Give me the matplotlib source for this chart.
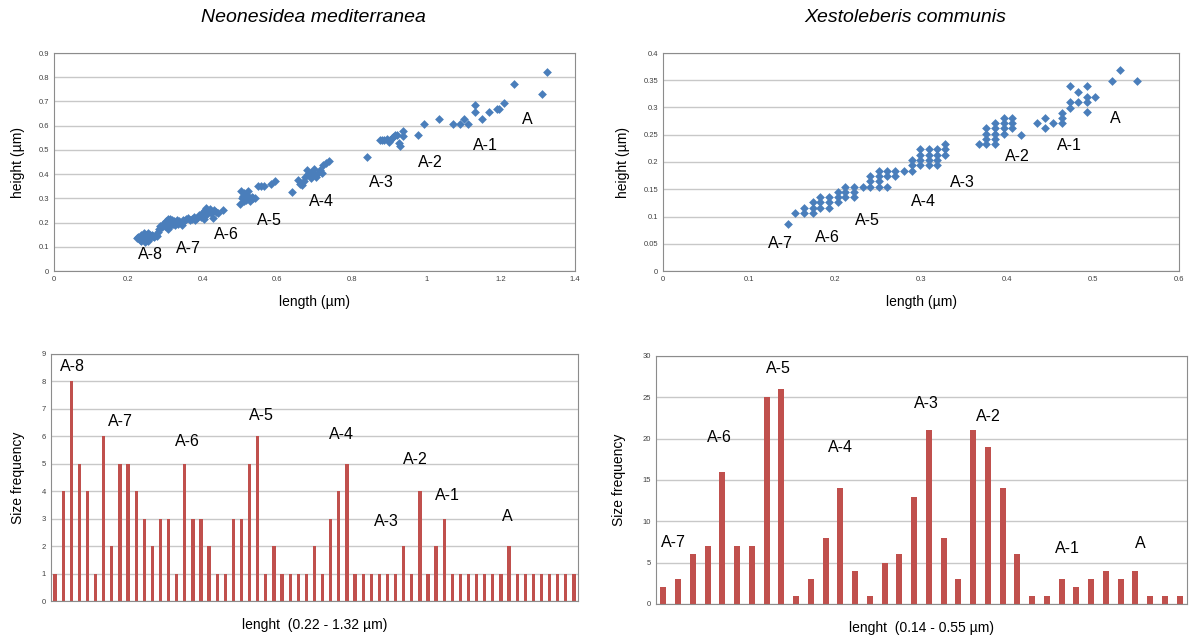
import matplotlib
matplotlib.use("Agg")
import matplotlib.pyplot as plt
import numpy as np

plt.rcParams['font.family'] = ['Liberation Sans', 'DejaVu Sans']

# Neonesidea mediterranea: length / height (um)
nm_length = [0.222, 0.227, 0.230, 0.233, 0.235, 0.237, 0.239, 0.241, 0.243, 0.245,
             0.247, 0.249, 0.251, 0.253, 0.255, 0.257, 0.259, 0.261, 0.264, 0.267,
             0.270, 0.273, 0.276, 0.279, 0.281, 0.284, 0.244, 0.252,
             0.290, 0.294, 0.298, 0.301, 0.304, 0.307, 0.310, 0.313, 0.316, 0.319,
             0.322, 0.325, 0.328, 0.331, 0.334, 0.337, 0.340, 0.343, 0.346, 0.350,
             0.355, 0.360, 0.365, 0.370, 0.375, 0.380, 0.385, 0.390, 0.306, 0.312,
             0.395, 0.399, 0.402, 0.405, 0.408, 0.411, 0.414, 0.418, 0.422, 0.426,
             0.430, 0.435, 0.440, 0.455, 0.404,
             0.500, 0.502, 0.505, 0.508, 0.511, 0.514, 0.517, 0.520, 0.522, 0.525,
             0.528, 0.531, 0.535, 0.540, 0.548, 0.555, 0.565, 0.583, 0.594, 0.510,
             0.639, 0.657, 0.662, 0.666, 0.672, 0.675, 0.679, 0.683, 0.687, 0.690,
             0.693, 0.697, 0.700, 0.704, 0.708, 0.715, 0.720, 0.724, 0.731, 0.738,
             0.842, 0.876, 0.882, 0.888, 0.894, 0.900, 0.904, 0.908, 0.912, 0.917,
             0.922, 0.926, 0.930, 0.937, 0.937,
             0.977, 0.995, 1.034, 1.072, 1.092, 1.102, 1.112, 1.132, 1.132, 1.151,
             1.170, 1.190, 1.197, 1.208, 1.237, 1.311, 1.324]
nm_height = [0.135, 0.140, 0.130, 0.150, 0.125, 0.145, 0.135, 0.155, 0.140, 0.130,
             0.150, 0.145, 0.135, 0.155, 0.140, 0.150, 0.145, 0.140, 0.150, 0.145,
             0.140, 0.150, 0.145, 0.160, 0.175, 0.185, 0.120, 0.125,
             0.180, 0.195, 0.185, 0.205, 0.190, 0.215, 0.200, 0.185, 0.210, 0.195,
             0.205, 0.190, 0.200, 0.210, 0.195, 0.205, 0.200, 0.190, 0.210, 0.205,
             0.215, 0.220, 0.210, 0.215, 0.225, 0.210, 0.220, 0.230, 0.175, 0.215,
             0.225, 0.240, 0.230, 0.250, 0.260, 0.235, 0.245, 0.255, 0.240, 0.220,
             0.250, 0.245, 0.240, 0.253, 0.215,
             0.275, 0.330, 0.300, 0.310, 0.290, 0.305, 0.295, 0.330, 0.310, 0.300,
             0.290, 0.305, 0.300, 0.300, 0.350, 0.350, 0.350, 0.360, 0.370, 0.320,
             0.327, 0.375, 0.361, 0.355, 0.370, 0.389, 0.416, 0.400, 0.402, 0.385,
             0.410, 0.395, 0.423, 0.389, 0.400, 0.416, 0.405, 0.437, 0.444, 0.455,
             0.471, 0.541, 0.541, 0.541, 0.547, 0.533, 0.540, 0.550, 0.554, 0.561,
             0.561, 0.527, 0.516, 0.579, 0.557,
             0.560, 0.606, 0.627, 0.606, 0.606, 0.627, 0.606, 0.685, 0.655, 0.627,
             0.655, 0.667, 0.667, 0.695, 0.771, 0.729, 0.820]

# Xestoleberis communis: length / height (um)
xc_length = [0.145, 0.154, 0.164, 0.164, 0.174, 0.174, 0.174, 0.183, 0.183, 0.183,
             0.193, 0.193, 0.193, 0.203, 0.203, 0.203, 0.212, 0.212, 0.212,
             0.222, 0.222, 0.222, 0.232, 0.241, 0.241, 0.241,
             0.251, 0.251, 0.251, 0.251, 0.260, 0.260, 0.260, 0.270, 0.270, 0.280,
             0.289, 0.289, 0.289, 0.299, 0.299, 0.299, 0.299, 0.309, 0.309, 0.309, 0.309,
             0.319, 0.319, 0.319, 0.319, 0.328, 0.328, 0.328,
             0.367, 0.376, 0.376, 0.376, 0.376, 0.386, 0.386, 0.386, 0.386, 0.386,
             0.396, 0.396, 0.396, 0.396, 0.406, 0.406, 0.406, 0.416,
             0.435, 0.444, 0.444, 0.454, 0.464, 0.464, 0.464,
             0.473, 0.473, 0.473, 0.483, 0.483, 0.493, 0.493, 0.493, 0.493, 0.502,
             0.522, 0.531, 0.551]
xc_height = [0.087, 0.106, 0.106, 0.116, 0.106, 0.116, 0.126, 0.116, 0.126, 0.135,
             0.116, 0.126, 0.135, 0.126, 0.135, 0.145, 0.135, 0.145, 0.155,
             0.135, 0.145, 0.155, 0.155, 0.155, 0.165, 0.175,
             0.155, 0.165, 0.175, 0.184, 0.155, 0.175, 0.184, 0.175, 0.184, 0.184,
             0.184, 0.194, 0.204, 0.194, 0.204, 0.213, 0.223, 0.194, 0.204, 0.213, 0.223,
             0.194, 0.204, 0.213, 0.223, 0.213, 0.223, 0.233,
             0.233, 0.233, 0.242, 0.252, 0.262, 0.233, 0.242, 0.252, 0.262, 0.271,
             0.252, 0.262, 0.271, 0.281, 0.262, 0.271, 0.281, 0.250,
             0.271, 0.262, 0.281, 0.271, 0.271, 0.281, 0.290,
             0.300, 0.310, 0.339, 0.310, 0.329, 0.291, 0.310, 0.320, 0.339, 0.320,
             0.349, 0.368, 0.349]

# size-frequency histograms
nm_freq = [1, 4, 8, 5, 4, 1, 6, 2, 5, 5, 4, 3, 2, 3, 3, 1, 5, 3, 3, 2, 1, 1, 3, 3, 5,
           6, 1, 2, 1, 1, 1, 1, 2, 1, 3, 4, 5, 1, 1, 1, 1, 1, 1, 2, 1, 4, 1, 2, 3, 1,
           1, 1, 1, 1, 1, 1, 2, 1, 1, 1, 1, 1, 1, 1, 1]
xc_freq = [2, 3, 6, 7, 16, 7, 7, 25, 26, 1, 3, 8, 14, 4, 1, 5, 6, 13, 21, 8, 3, 21,
           19, 14, 6, 1, 1, 3, 2, 3, 4, 3, 4, 1, 1, 1]

stage_names = ['A-8', 'A-7', 'A-6', 'A-5', 'A-4', 'A-3', 'A-2', 'A-1', 'A']
# label positions (data coords)
nm_sc_lab = [(0.258, 0.069), (0.36, 0.094), (0.462, 0.152), (0.58, 0.21), (0.72, 0.288),
             (0.879, 0.367), (1.011, 0.449), (1.159, 0.52), (1.271, 0.627)]
xc_sc_lab = [(0.136, 0.051), (0.191, 0.062), (0.238, 0.092), (0.303, 0.128),
             (0.348, 0.163), (0.412, 0.211), (0.473, 0.231), (0.526, 0.279)]
nm_h_lab = [(2.2, 8.54), (8.1, 6.53), (16.3, 5.8), (25.4, 6.75), (35.3, 6.06),
            (40.9, 2.88), (44.4, 5.15), (48.4, 3.83), (55.8, 3.07)]
xc_h_lab = [(0.66, 7.4), (3.8, 20.2), (7.8, 28.5), (12.0, 18.9), (17.8, 24.2),
            (22.0, 22.7), (27.4, 6.7), (32.3, 7.3)]

W, H = 1192, 636
BLUE = '#4a7ebb'
RED = '#c0504d'
GRID = '#c8c8c8'
EDGE = '#8c8c8c'


def rect(l, r, t, b):
    return [l / W, (H - b) / H, (r - l) / W, (b - t) / H]


def style(ax):
    ax.set_axisbelow(True)
    ax.yaxis.grid(True, color=GRID, lw=1)
    for s in ax.spines.values():
        s.set_color(EDGE)
        s.set_linewidth(0.8)
    ax.tick_params(length=0, labelsize=5.5, labelcolor='#404040')


fig = plt.figure(figsize=(W / 100, H / 100), dpi=100)

# scatter plots
ax1 = fig.add_axes(rect(54, 575, 53, 271))
ax1.scatter(nm_length, nm_height, marker='D', s=20, color=BLUE, lw=0)
ax1.set_xlim(0, 1.4)
ax1.set_ylim(0, 0.9)
ax1.set_xticks(np.arange(0, 1.41, 0.2))
ax1.set_xticklabels(['0', '0.2', '0.4', '0.6', '0.8', '1', '1.2', '1.4'])
ax1.set_yticks(np.arange(0, 0.91, 0.1))
ax1.set_yticklabels(['0'] + ['%.1f' % v for v in np.arange(0.1, 0.91, 0.1)])
style(ax1)
ax1.set_xlabel('length (µm)', fontsize=10, labelpad=9)
ax1.set_ylabel('height (µm)', fontsize=10, labelpad=10)
for name, (x, y) in zip(stage_names, nm_sc_lab):
    ax1.text(x, y, name, fontsize=11.5, ha='center', va='center')

ax2 = fig.add_axes(rect(663, 1179, 53, 271))
ax2.scatter(xc_length, xc_height, marker='D', s=20, color=BLUE, lw=0)
ax2.set_xlim(0, 0.6)
ax2.set_ylim(0, 0.4)
ax2.set_xticks(np.arange(0, 0.61, 0.1))
ax2.set_xticklabels(['0', '0.1', '0.2', '0.3', '0.4', '0.5', '0.6'])
ax2.set_yticks(np.arange(0, 0.41, 0.05))
ax2.set_yticklabels(['0', '0.05', '0.1', '0.15', '0.2', '0.25', '0.3', '0.35', '0.4'])
style(ax2)
ax2.set_xlabel('length (µm)', fontsize=10, labelpad=9)
ax2.set_ylabel('height (µm)', fontsize=10, labelpad=10)
for name, (x, y) in zip(stage_names[1:], xc_sc_lab):
    ax2.text(x, y, name, fontsize=11.5, ha='center', va='center')

# size-frequency bars
ax3 = fig.add_axes(rect(51, 578, 354, 601))
ax3.bar(np.arange(len(nm_freq)), nm_freq, width=0.4, color=RED)
ax3.set_xlim(-0.5, len(nm_freq) - 0.5)
ax3.set_ylim(0, 9)
ax3.set_yticks(range(0, 10))
ax3.set_xticks([])
style(ax3)
ax3.set_xlabel('lenght  (0.22 - 1.32 µm)', fontsize=10, labelpad=12)
ax3.set_ylabel('Size frequency', fontsize=10, labelpad=12)
for name, (x, y) in zip(stage_names, nm_h_lab):
    ax3.text(x, y, name, fontsize=11.5, ha='center', va='center')

ax4 = fig.add_axes(rect(656, 1187, 356, 604))
ax4.bar(np.arange(len(xc_freq)), xc_freq, width=0.4, color=RED)
ax4.set_xlim(-0.5, len(xc_freq) - 0.5)
ax4.set_ylim(0, 30)
ax4.set_yticks(range(0, 31, 5))
ax4.set_xticks([])
style(ax4)
ax4.set_xlabel('lenght  (0.14 - 0.55 µm)', fontsize=10, labelpad=12)
ax4.set_ylabel('Size frequency', fontsize=10, labelpad=12)
for name, (x, y) in zip(stage_names[1:], xc_h_lab):
    ax4.text(x, y, name, fontsize=11.5, ha='center', va='center')

fig.text(313 / W, 1 - 18 / H, 'Neonesidea mediterranea', fontsize=14, style='italic',
         ha='center', va='center')
fig.text(905 / W, 1 - 18 / H, 'Xestoleberis communis', fontsize=14, style='italic',
         ha='center', va='center')

fig.savefig('out.png', dpi=100)
